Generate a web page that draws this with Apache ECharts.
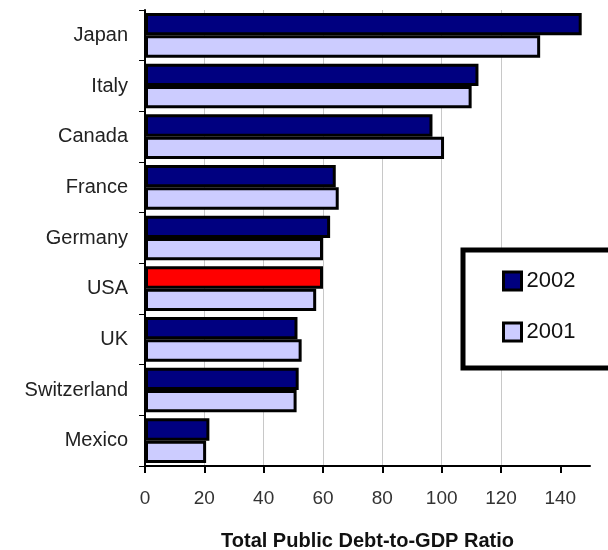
<!DOCTYPE html>
<html>
<head>
<meta charset="utf-8">
<script src="https://cdn.jsdelivr.net/npm/echarts@6/dist/echarts.min.js"></script>
<style>html,body{margin:0;padding:0;background:#fff;}#c{width:608px;height:550px;}</style>
</head>
<body>
<div id="c"></div>
<script>
const countries = ['Japan', 'Italy', 'Canada', 'France', 'Germany', 'USA', 'UK', 'Switzerland', 'Mexico'];
const debt2002 = [147.2, 112.4, 96.9, 64.3, 62.4, 60.0, 51.4, 51.8, 21.7];
const debt2001 = [133.2, 110.1, 100.8, 65.3, 60.0, 57.7, 52.8, 51.1, 20.6];
const xTicks = [0, 20, 40, 60, 80, 100, 120, 140];
const highlightCountry = 'USA';

const chart = echarts.init(document.getElementById('c'), null, {renderer: 'canvas'});
const FONT = '"Liberation Sans", Arial, sans-serif';

chart.setOption({
  animation: false,
  backgroundColor: '#fff',
  grid: {left: 145, right: 18, top: 10, bottom: 84, containLabel: false, outerBoundsMode: 'none'},
  legend: {
    orient: 'vertical',
    left: 463,
    top: 250,
    data: ['2002', '2001'],
    itemWidth: 18,
    itemHeight: 18,
    itemGap: 29,
    padding: [20, 80, 25, 39],
    borderColor: '#000',
    borderWidth: 5,
    backgroundColor: '#fff',
    icon: 'rect',
    itemStyle: {borderColor: '#000', borderWidth: 3},
    textStyle: {fontFamily: FONT, fontSize: 22, color: '#111', padding: [0, 0, 0, 0]}
  },
  xAxis: {
    type: 'value',
    min: 0,
    max: 150,
    interval: 20,
    name: 'Total Public Debt-to-GDP Ratio',
    nameLocation: 'middle',
    nameGap: 65,
    nameTextStyle: {fontFamily: FONT, fontSize: 20, fontWeight: 'bold', color: '#111'},
    axisLine: {show: true, lineStyle: {color: '#000', width: 2}},
    axisTick: {show: true, length: 7, lineStyle: {color: '#000', width: 2}, customValues: xTicks},
    axisLabel: {fontFamily: FONT, fontSize: 19, color: '#333', margin: 23, customValues: xTicks},
    splitLine: {show: true, showMinLine: false, showMaxLine: false, lineStyle: {color: '#c8c8c8', width: 1}}
  },
  yAxis: {
    type: 'category',
    inverse: true,
    data: countries,
    axisLine: {show: true, lineStyle: {color: '#000', width: 2}},
    axisTick: {show: true, length: 6, lineStyle: {color: '#000', width: 1}},
    axisLabel: {fontFamily: FONT, fontSize: 20, color: '#222', margin: 17}
  },
  series: [
    {
      name: '2002',
      type: 'bar',
      data: debt2002.map((v, i) => countries[i] === highlightCountry ? {value: v, itemStyle: {color: '#ff0000'}} : v),
      itemStyle: {color: '#000080', borderColor: '#000', borderWidth: 3},
      barGap: '0%',
      barCategoryGap: '12%'
    },
    {
      name: '2001',
      type: 'bar',
      data: debt2001,
      itemStyle: {color: '#ccccff', borderColor: '#000', borderWidth: 3},
      barGap: '0%',
      barCategoryGap: '12%'
    }
  ]
});
</script>
</body>
</html>
